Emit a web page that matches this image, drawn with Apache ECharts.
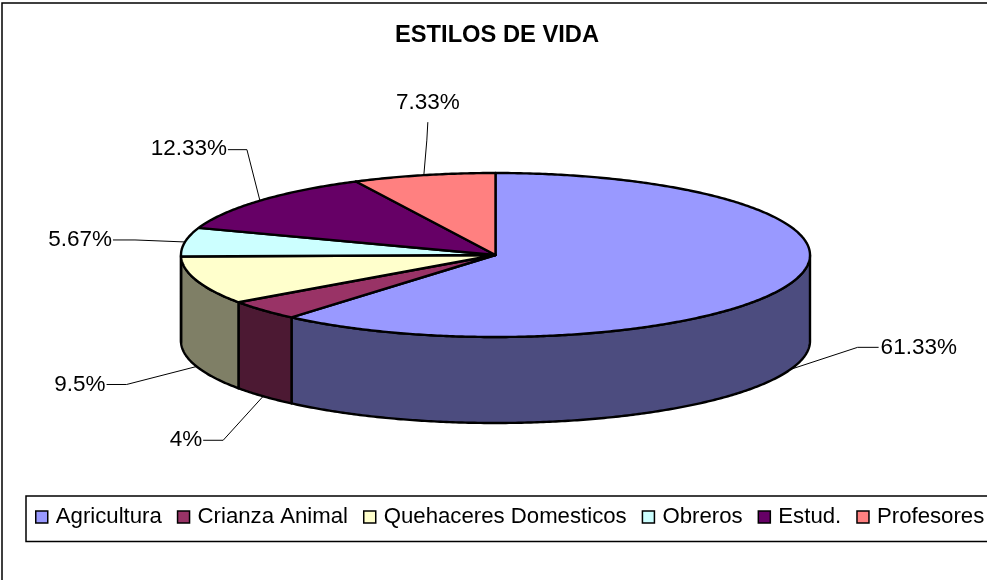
<!DOCTYPE html>
<html>
<head>
<meta charset="utf-8">
<style>
  html, body { margin: 0; padding: 0; background: #fff; }
  #chart { width: 987px; height: 580px; }
</style>
<script src="https://cdn.jsdelivr.net/npm/echarts@6/dist/echarts.min.js"></script>
</head>
<body>
<div id="chart"></div>
<script>
// datos
const categories = ['Agricultura', 'Crianza Animal', 'Quehaceres Domesticos', 'Obreros', 'Estud.', 'Profesores']
const values = [61.33, 4, 9.5, 5.67, 12.33, 7.33]
const colors = ['#9999FF', '#993366', '#FFFFCC', '#CCFFFF', '#660066', '#FF8080']
const sideColors = ['#4C4C7F', '#4C1933', '#7F7F66', '#667F7F', '#330033', '#7F4040']

// geometria del pastel 3D
const cx = 495.5, cy = 255, rx = 314.5, ry = 82, depth = 86
const font = 'Liberation Sans, Arial, sans-serif'

// linea guia: codo y fin relativos al punto de anclaje, texto relativo al fin
const leaders = [
  { elbow: [67, -22], end: [88, -22], text: [2, 0], align: 'left' },
  { elbow: [-40, 44], end: [-60, 44], text: [-1, 0], align: 'right' },
  { elbow: [-70, 18], end: [-90, 18], text: [-1, 0], align: 'right' },
  { elbow: [-50, -2], end: [-72, -2], text: [-1, 0], align: 'right' },
  { elbow: [-13, -51], end: [-32, -51], text: [-1, -1], align: 'right' },
  { elbow: [3, -35], end: [4, -53], text: [0, -19], align: 'center' }
]

const total = values.reduce((a, b) => a + b, 0)
const starts = []
values.reduce((acc, v, i) => { starts[i] = acc; return acc + v }, 0)

// angulo en radianes desde arriba, sentido horario
function angleOf(v) { return v / total * Math.PI * 2 }
function point(a, dy) { return [cx + rx * Math.sin(a), cy - ry * Math.cos(a) + (dy || 0)] }
function arc(a0, a1, dy) {
  const n = Math.max(2, Math.ceil((a1 - a0) / 0.01))
  const pts = []
  for (let k = 0; k <= n; k++) pts.push(point(a0 + (a1 - a0) * k / n, dy))
  return pts
}

function renderSlice(i) {
  const a0 = angleOf(starts[i])
  const a1 = angleOf(starts[i] + values[i])
  const mid = (a0 + a1) / 2
  const children = []
  const edge = { stroke: '#000', lineWidth: 2.4, lineJoin: 'round' }

  // cara lateral, solo la mitad frontal
  const s0 = Math.max(a0, Math.PI / 2)
  const s1 = Math.min(a1, Math.PI * 1.5)
  if (s1 > s0) {
    const points = arc(s0, s1, 0).concat(arc(s0, s1, depth).reverse())
    children.push({
      type: 'polygon', z2: 1,
      shape: { points },
      style: Object.assign({ fill: sideColors[i] }, edge)
    })
  }
  // cara superior
  children.push({
    type: 'polygon', z2: 2,
    shape: { points: [[cx, cy]].concat(arc(a0, a1, 0)) },
    style: Object.assign({ fill: colors[i] }, edge)
  })
  // linea guia y etiqueta
  const isFront = mid > Math.PI / 2 && mid < Math.PI * 1.5
  const anchor = point(mid, isFront ? depth : 0)
  const l = leaders[i]
  const elbow = [anchor[0] + l.elbow[0], anchor[1] + l.elbow[1]]
  const end = [anchor[0] + l.end[0], anchor[1] + l.end[1]]
  children.push({
    type: 'polyline', z2: 3,
    shape: { points: [anchor, elbow, end] },
    style: { stroke: '#000', lineWidth: 1, fill: null }
  })
  children.push({
    type: 'text', z2: 3,
    style: {
      x: end[0] + l.text[0], y: end[1] + l.text[1],
      text: values[i] + '%',
      fill: '#000', font: '22.5px ' + font,
      align: l.align, verticalAlign: 'middle'
    }
  })
  return { type: 'group', children }
}

const series = categories.map((name, i) => ({
  name,
  type: 'custom',
  coordinateSystem: 'none',
  data: [values[i]],
  itemStyle: { color: colors[i] },
  silent: true,
  animation: false,
  clip: false,
  renderItem: () => renderSlice(i)
}))

const option = {
  backgroundColor: '#fff',
  animation: false,
  title: {
    text: 'ESTILOS DE VIDA',
    left: 492,
    top: 18,
    textAlign: 'center',
    textStyle: { color: '#000', fontFamily: font, fontSize: 23.7, fontWeight: 'bold' }
  },
  // marco exterior y caja de la leyenda, cortados por el borde derecho como en el original
  graphic: [
    { type: 'rect', z: -1, shape: { x: 2, y: 3, width: 1100, height: 700 }, style: { fill: '#fff', stroke: '#000', lineWidth: 1.5 } },
    { type: 'rect', z: -1, shape: { x: 26, y: 496, width: 1100, height: 45.5 }, style: { fill: '#fff', stroke: '#000', lineWidth: 1.5 } }
  ],
  legend: {
    data: categories,
    left: 35,
    top: 506,
    padding: 0,
    orient: 'horizontal',
    icon: 'rect',
    itemWidth: 12,
    itemHeight: 12,
    itemGap: 15,
    selectedMode: false,
    itemStyle: { borderColor: '#000', borderWidth: 1.5 },
    textStyle: { color: '#000', fontFamily: font, fontSize: 22.2, padding: [0, 0, 0, 3] }
  },
  series
}

const chart = echarts.init(document.getElementById('chart'))
chart.setOption(option)
window.addEventListener('resize', chart.resize)
</script>
</body>
</html>
